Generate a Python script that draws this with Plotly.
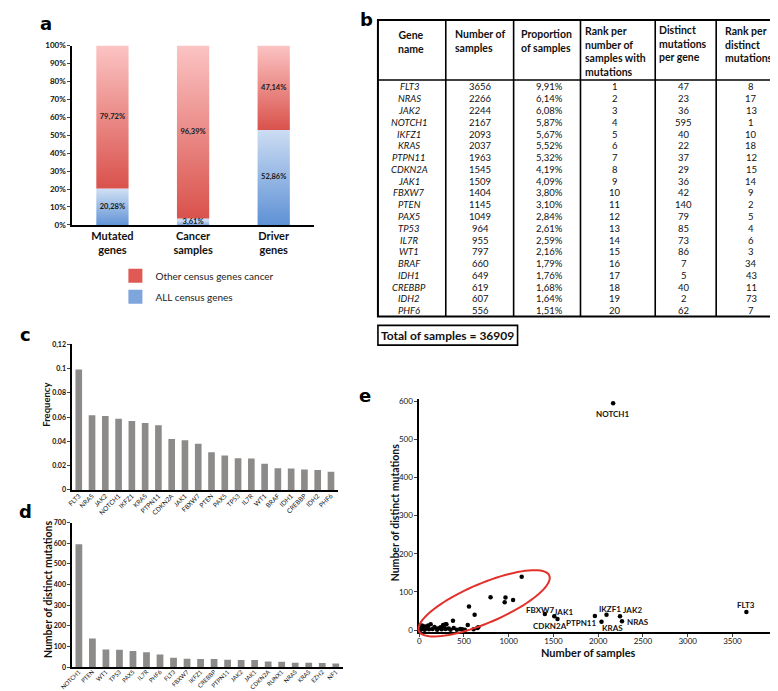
import numpy as np
import plotly.graph_objects as go

W, H = 778, 691


def fx(p):
    return p / W


def fy(p):
    return 1 - p / H


FONT = "Lato, 'Open Sans', sans-serif"
BLACK = "#111111"

# ---------------- Panel a ----------------
a_categories = ["Mutated<br>genes", "Cancer<br>samples", "Driver<br>genes"]
a_all_census = [20.28, 3.61, 52.86]
a_other_census = [79.72, 96.39, 47.14]
a_all_text = ["20,28%", "3,61%", "52,86%"]
a_other_text = ["79,72%", "96,39%", "47,14%"]
a_ytick_vals = [0, 10, 20, 30, 40, 50, 60, 70, 80, 90, 100]
a_ytick_text = ["0%", "10%", "20%", "30%", "40%", "50%", "60%", "70%", "80%", "90%", "100%"]
a_legend_names = ["Other census genes cancer", "ALL census genes"]

# ---------------- Panel b (table) ----------------
b_headers = ["Gene<br>name", "Number of<br>samples", "Proportion<br>of samples",
             "Rank per<br>number of<br>samples with<br>mutations",
             "Distinct<br>mutations<br>per gene", "Rank per<br>distinct<br>mutations"]
b_genes = ["FLT3", "NRAS", "JAK2", "NOTCH1", "IKFZ1", "KRAS", "PTPN11", "CDKN2A", "JAK1", "FBXW7",
           "PTEN", "PAX5", "TP53", "IL7R", "WT1", "BRAF", "IDH1", "CREBBP", "IDH2", "PHF6"]
b_samples = [3656, 2266, 2244, 2167, 2093, 2037, 1963, 1545, 1509, 1404,
             1145, 1049, 964, 955, 797, 660, 649, 619, 607, 556]
b_proportion = ["9,91%", "6,14%", "6,08%", "5,87%", "5,67%", "5,52%", "5,32%", "4,19%", "4,09%", "3,80%",
                "3,10%", "2,84%", "2,61%", "2,59%", "2,16%", "1,79%", "1,76%", "1,68%", "1,64%", "1,51%"]
b_rank_samples = list(range(1, 21))
b_distinct = [47, 23, 36, 595, 40, 22, 37, 29, 36, 42, 140, 79, 85, 73, 86, 7, 5, 40, 2, 62]
b_rank_distinct = [8, 17, 13, 1, 10, 18, 12, 15, 14, 9, 2, 5, 4, 6, 3, 34, 43, 11, 73, 7]
b_total_samples = 36909

# ---------------- Panel c ----------------
c_genes = ["FLT3", "NRAS", "JAK2", "NOTCH1", "IKFZ1", "KRAS", "PTPN11", "CDKN2A", "JAK1", "FBXW7",
           "PTEN", "PAX5", "TP53", "IL7R", "WT1", "BRAF", "IDH1", "CREBBP", "IDH2", "PHF6"]
c_frequency = [0.0991, 0.0614, 0.0608, 0.0587, 0.0567, 0.0552, 0.0532, 0.0419, 0.0409, 0.0380,
               0.0310, 0.0284, 0.0261, 0.0259, 0.0216, 0.0179, 0.0176, 0.0168, 0.0164, 0.0151]
c_ytick_vals = [0, 0.02, 0.04, 0.06, 0.08, 0.1, 0.12]
c_ytick_text = ["0", "0.02", "0.04", "0.06", "0.08", "0.1", "0,12"]

# ---------------- Panel d ----------------
d_genes = ["NOTCH1", "PTEN", "WT1", "TP53", "PAX5", "IL7R", "PHF6", "FLT3", "FBXW7", "IKFZ1",
           "CREBBP", "PTPN11", "JAK2", "JAK1", "CDKN2A", "RUNX1", "NRAS", "KRAS", "EZH2", "NF1"]
d_distinct = [595, 140, 86, 85, 79, 73, 62, 47, 42, 40, 40, 37, 36, 36, 29, 27, 23, 22, 21, 19]
d_ytick_vals = [0, 100, 200, 300, 400, 500, 600, 700]

# ---------------- Panel e ----------------
e_other_samples = [128, 377, 304, 267, 542, 385, 293, 271, 73, 37, 150, 205, 293, 55, 18, 458, 510,
                   20, 45, 90, 110, 170, 230, 250, 330, 420, 480, 60, 15, 100, 200, 350, 30, 80, 240, 8]
e_other_distinct = [15, 24, 15, 13, 13, 5, 15, 10, 9, 7, 3, 4, 3, 3, 2, 3, 1,
                    5, 10, 6, 2, 8, 5, 2, 4, 1, 2, 1, 1, 12, 1, 1, 12, 4, 7, 4]
e_labeled = ["NOTCH1", "FLT3", "FBXW7", "JAK1", "CDKN2A", "PTPN11", "IKFZ1", "KRAS", "JAK2", "NRAS"]
e_label_text = {"IKFZ1": "IKZF1"}
e_xtick_vals = [0, 500, 1000, 1500, 2000, 2500, 3000, 3500, 4000]
e_ytick_vals = [0, 100, 200, 300, 400, 500, 600]

fig = go.Figure()

# ---- panel a: stacked bars with vertical gradients ----
BW = 0.2
blue_bottom, blue_top = "#5b8fd4", "#cbdcf3"
red_bottom, red_top = "#d9504a", "#fbc4c3"
for i in range(len(a_categories)):
    lo, hi = 0, a_all_census[i]
    fig.add_trace(go.Scatter(
        x=[i - BW, i + BW, i + BW, i - BW, i - BW], y=[lo, lo, hi, hi, lo],
        mode="lines", fill="toself", line=dict(width=0, color="rgba(0,0,0,0)"),
        fillgradient=dict(type="vertical", colorscale=[[0, blue_bottom], [1, blue_top]], start=lo, stop=hi),
        showlegend=False, hoverinfo="skip", xaxis="x", yaxis="y"))
    lo2, hi2 = a_all_census[i], a_all_census[i] + a_other_census[i]
    fig.add_trace(go.Scatter(
        x=[i - BW, i + BW, i + BW, i - BW, i - BW], y=[lo2, lo2, hi2, hi2, lo2],
        mode="lines", fill="toself", line=dict(width=0, color="rgba(0,0,0,0)"),
        fillgradient=dict(type="vertical", colorscale=[[0, red_bottom], [1, red_top]], start=lo2, stop=hi2),
        showlegend=False, hoverinfo="skip", xaxis="x", yaxis="y"))

fig.add_trace(go.Scatter(
    x=list(range(3)), y=[v / 2 for v in a_all_census], text=a_all_text, mode="text",
    textfont=dict(size=7.5, color="#1a1a1a", family=FONT, weight="bold"),
    showlegend=False, hoverinfo="skip", xaxis="x", yaxis="y", cliponaxis=False))
fig.add_trace(go.Scatter(
    x=list(range(3)), y=[a_all_census[i] + a_other_census[i] / 2 for i in range(3)], text=a_other_text,
    mode="text", textfont=dict(size=7.5, color="#1a1a1a", family=FONT, weight="bold"),
    showlegend=False, hoverinfo="skip", xaxis="x", yaxis="y"))

# legend entries
fig.add_trace(go.Scatter(x=[None], y=[None], mode="markers", name=a_legend_names[0], legendgroup="g1",
                         marker=dict(symbol="square", size=14, color="#df5a54"), xaxis="x", yaxis="y"))
fig.add_trace(go.Scatter(x=[None], y=[None], mode="markers", name=a_legend_names[1], legendgroup="g2",
                         marker=dict(symbol="square", size=14, color="#7ea5dc"), xaxis="x", yaxis="y"))

# ---- panel c ----
BAR_GRAY = "#8d8b89"
fig.add_trace(go.Bar(x=c_genes, y=c_frequency, marker=dict(color=BAR_GRAY, line=dict(width=0)),
                     showlegend=False, xaxis="x2", yaxis="y2", hoverinfo="skip"))
# ---- panel d ----
fig.add_trace(go.Bar(x=d_genes, y=d_distinct, marker=dict(color=BAR_GRAY, line=dict(width=0)),
                     showlegend=False, xaxis="x3", yaxis="y3", hoverinfo="skip"))

# ---- panel e ----
fig.add_trace(go.Scatter(x=b_samples + e_other_samples, y=b_distinct + e_other_distinct, mode="markers",
                         marker=dict(size=4.5, color="black"), showlegend=False,
                         xaxis="x4", yaxis="y4", hoverinfo="skip", cliponaxis=False))

annotations = []
shapes = []

# label offsets (pixels) for panel e
e_offsets = {"NOTCH1": (-1, -11), "FLT3": (0, 7), "FBXW7": (-5, 4), "JAK1": (9, 4), "CDKN2A": (-7, -7),
             "PTPN11": (-13, -7), "IKFZ1": (3, 6), "KRAS": (11, -6), "JAK2": (12, 6), "NRAS": (16, -1)}
for g in e_labeled:
    k = b_genes.index(g)
    dx, dy = e_offsets[g]
    annotations.append(dict(x=b_samples[k], y=b_distinct[k], xref="x4", yref="y4",
                            text=e_label_text.get(g, g), showarrow=False, xshift=dx, yshift=dy,
                            xanchor="center", yanchor="middle",
                            font=dict(size=8, color=BLACK, family=FONT, weight="bold")))

# panel letters
for letter, (lx, ly) in {"a": (25, 11), "b": (351, 7), "c": (5, 326), "d": (5, 506), "e": (350, 388)}.items():
    annotations.append(dict(x=fx(lx), y=fy(ly), xref="paper", yref="paper", text=letter, showarrow=False,
                            xanchor="center", yanchor="middle",
                            font=dict(size=18, color="black", family="DejaVu Sans", weight="bold")))

# axis titles
title_font = dict(size=10.5, color=BLACK, family=FONT, weight="bold")
titles = [
    ("Frequency", 26, 398, -90, dict(size=9.5, color=BLACK, family=FONT, weight="bold")),
    ("Number of distinct mutations", 27, 585, -90, title_font),
    ("Number of distinct mutations", 380, 507, -90, title_font),
    ("Number of samples", 577, 649, 0, dict(size=11, color=BLACK, family=FONT, weight="bold")),
]
for txt, tx, ty, ang, fnt in titles:
    annotations.append(dict(x=fx(tx), y=fy(ty), xref="paper", yref="paper", text=txt, textangle=ang,
                            showarrow=False, xanchor="center", yanchor="middle", font=fnt))

# ---- table (panel b) ----
T_LEFT, T_RIGHT, T_TOP, T_BOTTOM, T_HEAD = 363, 777, 7, 308, 68
col_lines = [432, 501, 569, 645, 707]
shapes.append(dict(type="rect", xref="paper", yref="paper", x0=fx(T_LEFT), x1=fx(T_RIGHT),
                   y0=fy(T_BOTTOM), y1=fy(T_TOP), line=dict(color="black", width=2)))
shapes.append(dict(type="line", xref="paper", yref="paper", x0=fx(T_LEFT), x1=fx(T_RIGHT),
                   y0=fy(T_HEAD), y1=fy(T_HEAD), line=dict(color="black", width=1.6)))
for cx in col_lines:
    shapes.append(dict(type="line", xref="paper", yref="paper", x0=fx(cx), x1=fx(cx),
                       y0=fy(T_BOTTOM), y1=fy(T_TOP), line=dict(color="black", width=1.6)))

head_pos = [(397, 29.5, "center"), (439, 28.5, "left"), (506, 28, "left"),
            (572, 39.5, "left"), (647, 30.5, "left"), (714, 32, "left")]
for txt, (hx, hy, anc) in zip(b_headers, head_pos):
    annotations.append(dict(x=fx(hx), y=fy(hy), xref="paper", yref="paper", text=txt, showarrow=False,
                            xanchor=anc, yanchor="middle", align=anc,
                            font=dict(size=10.5, color=BLACK, family=FONT, weight="bold")))

columns = [(b_genes, 395, "italic"), (b_samples, 467, "normal"), (b_proportion, 537, "normal"),
           (b_rank_samples, 604, "normal"), (b_distinct, 674, "normal"), (b_rank_distinct, 742.5, "normal")]
for vals, cx, style in columns:
    for r, v in enumerate(vals):
        annotations.append(dict(x=fx(cx), y=fy(75 + r * 11.95), xref="paper", yref="paper", text=str(v),
                                showarrow=False, xanchor="center", yanchor="middle",
                                font=dict(size=9.5, color=BLACK, family=FONT, style=style)))

shapes.append(dict(type="rect", xref="paper", yref="paper", x0=fx(363), x1=fx(505), y0=fy(337), y1=fy(317),
                   line=dict(color="black", width=1.6)))
annotations.append(dict(x=fx(434), y=fy(327), xref="paper", yref="paper",
                        text=f"Total of samples = {b_total_samples}", showarrow=False,
                        xanchor="center", yanchor="middle",
                        font=dict(size=12, color=BLACK, family=FONT, weight="bold")))

# red ellipse (panel e), drawn in pixel space
t = np.linspace(0, 2 * np.pi, 90)
ecx, ecy, ea, eb, eth = 471, 599, 72, 20, np.deg2rad(23)
ex = ecx + ea * np.cos(t) * np.cos(eth) - eb * np.sin(t) * np.sin(eth)
ey = ecy - (ea * np.cos(t) * np.sin(eth) + eb * np.sin(t) * np.cos(eth))
path = "M " + " L ".join(f"{fx(a):.5f},{fy(b):.5f}" for a, b in zip(ex, ey)) + " Z"
shapes.append(dict(type="path", xref="paper", yref="paper", path=path, line=dict(color="#e2312b", width=2)))

axis_common = dict(showgrid=False, zeroline=False, showline=True, linecolor="black", linewidth=1.5,
                   fixedrange=True)

fig.update_layout(
    width=W, height=H, autosize=False,
    margin=dict(l=0, r=0, t=0, b=0),
    paper_bgcolor="white", plot_bgcolor="white",
    font=dict(family=FONT, color=BLACK),
    bargap=0.5,
    showlegend=True,
    legend=dict(x=fx(96), y=fy(252), xanchor="left", yanchor="top", traceorder="grouped",
                tracegroupgap=2, font=dict(size=10, color="#222", family=FONT),
                bgcolor="rgba(0,0,0,0)"),
    xaxis=dict(domain=[fx(52), fx(298)], anchor="y", range=[-0.5, 2.5], tickvals=[0, 1, 2],
               ticktext=a_categories, ticks="", tickfont=dict(size=11, family=FONT, weight="bold", color=BLACK),
               **axis_common),
    yaxis=dict(domain=[fy(215), fy(33)], anchor="x", range=[0, 100], tickvals=a_ytick_vals,
               ticktext=a_ytick_text, ticks="outside", ticklen=3, tickwidth=1,
               tickfont=dict(size=8, family=FONT, weight="bold", color=BLACK), **axis_common),
    xaxis2=dict(domain=[fx(52), fx(322)], anchor="y2", type="category", tickangle=-45, ticks="",
                ticklabelstandoff=-2, tickfont=dict(size=6.5, family=FONT, color=BLACK), **axis_common),
    yaxis2=dict(domain=[fy(484), fy(336)], anchor="x2", range=[0, 0.12], tickvals=c_ytick_vals,
                ticktext=c_ytick_text, ticks="outside", ticklen=3, tickwidth=1,
                tickfont=dict(size=7, family=FONT, weight="bold", color=BLACK), **axis_common),
    xaxis3=dict(domain=[fx(52), fx(327)], anchor="y3", type="category", tickangle=-45, ticks="",
                ticklabelstandoff=-3, tickfont=dict(size=6, family=FONT, color=BLACK), **axis_common),
    yaxis3=dict(domain=[fy(664), fy(517)], anchor="x3", range=[0, 700], tickvals=d_ytick_vals,
                ticks="outside", ticklen=3, tickwidth=1,
                tickfont=dict(size=7, family=FONT, weight="bold", color=BLACK), **axis_common),
    xaxis4=dict(domain=[fx(405), fx(769)], anchor="y4", range=[0, 4000], tickvals=e_xtick_vals,
                ticks="outside", ticklen=3, tickwidth=1, ticklabelstandoff=-3,
                tickfont=dict(size=8, family=FONT, color=BLACK), **axis_common),
    yaxis4=dict(domain=[fy(628.4), fy(392)], anchor="x4", range=[-6, 605], tickvals=e_ytick_vals,
                ticks="outside", ticklen=3, tickwidth=1,
                tickfont=dict(size=8, family=FONT, color=BLACK), **axis_common),
    annotations=annotations,
    shapes=shapes,
)

fig.write_html("out.html")
